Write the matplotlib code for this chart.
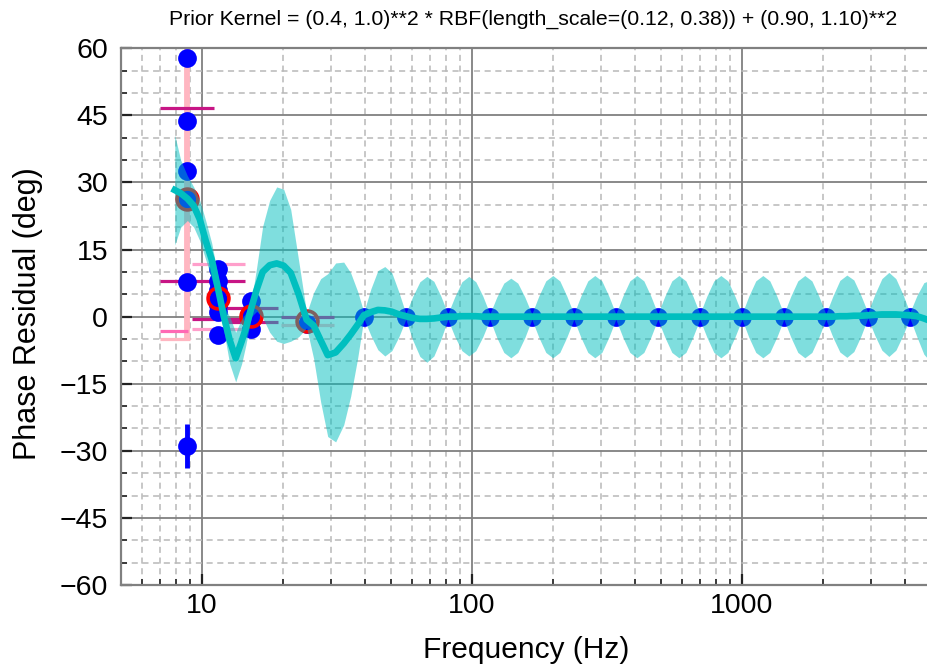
import numpy as np
import matplotlib
matplotlib.use("Agg")
import matplotlib.pyplot as plt
import matplotlib.ticker as mticker

plt.rcParams['font.family'] = ['Liberation Sans', 'DejaVu Sans']

# ---------------- data ----------------
title_text = "Prior Kernel = (0.4, 1.0)**2 * RBF(length_scale=(0.12, 0.38)) + (0.90, 1.10)**2"
x_label = "Frequency (Hz)"
y_label = "Phase Residual (deg)"
xtick_values = [10, 100, 1000]
xtick_labels = ["10", "100", "1000"]
ytick_values = [-60, -45, -30, -15, 0, 15, 30, 45, 60]

# measured phase residuals (blue dots)
meas_freq = [8.82, 8.82, 8.82, 8.82, 8.82,
             11.47, 11.47, 11.47, 11.47, 11.47, 11.47, 11.47,
             15.24, 15.24, 15.24, 15.24,
             24.42,
             39.76, 56.90, 81.42, 116.5, 166.6, 238.4, 341.1, 488.0,
             698.3, 1000, 1429, 2045, 2926, 4186]
meas_phase = [57.8, 43.7, 32.5, 26.2, 7.8,
              10.6, 8.0, 6.0, 4.0, 2.5, 1.0, -4.1,
              3.6, 1.0, -1.0, -2.7,
              -1.6,
              0.0, 0.0, 0.0, 0.0, 0.0, 0.0, 0.0, 0.0,
              0.0, 0.0, 0.0, 0.0, 0.0, 0.0]

# outlier with vertical error
outlier_freq = [8.82]
outlier_phase = [-28.9]
outlier_err = [5.0]

# averaged points (red rings)
avg_freq = [8.82, 11.47, 15.24, 24.42]
avg_phase = [26.3, 4.1, 0.1, -1.0]

# large vertical uncertainty bar
vbar_freq = [8.82]
vbar_low = [-5.3]
vbar_high = [64.0]

# horizontal (frequency) uncertainty bars
hbar_phase = [46.6, 7.9, -3.3, -5.1, 11.7, -0.5, -2.8, 2.0, -1.1, 0.0, -1.9]
hbar_f_lo = [7.02, 7.02, 7.02, 7.02, 9.16, 9.16, 9.16, 12.14, 12.14, 19.56, 19.56]
hbar_f_hi = [11.08, 14.39, 8.85, 9.0, 14.39, 14.39, 14.39, 19.07, 19.07, 30.74, 30.74]
hbar_color = ['#C71585', '#C71585', '#FF69B4', '#FFB6C1', '#FF9FCB', '#C71585',
              '#FF9FCB', '#C71585', '#C71585', '#C71585', '#FFB6C1']

# Gaussian-process fit: frequency, mean, lower and upper band
gp_freq = [7.93, 8.34, 8.83, 9.32, 9.81, 10.32, 10.86, 11.47, 12.03, 12.66,
           13.33, 14.03, 14.52, 15.24, 15.95, 16.78, 17.81, 18.91, 20.07, 21.31,
           22.81, 24.42, 25.92, 27.52, 29.22, 31.27, 33.49, 35.54, 37.74,
           39.76, 42.21, 44.81, 47.56, 50.49, 53.60,
           56.90, 60.40, 64.12, 68.06, 72.25, 76.70,
           81.42, 86.43, 91.75, 97.35, 103.3, 109.7,
           116.5, 123.6, 131.2, 139.3, 147.8, 156.9,
           166.6, 176.8, 187.7, 199.3, 211.5, 224.5,
           238.4, 253.0, 268.6, 285.1, 302.7, 321.3,
           341.1, 362.0, 384.3, 408.0, 433.1, 459.7,
           488.0, 518.1, 549.9, 583.8, 619.7, 657.8,
           698.3, 741.3, 786.9, 835.3, 886.7, 941.3,
           1000, 1060, 1125, 1195, 1268, 1346,
           1429, 1517, 1610, 1709, 1815, 1926,
           2045, 2171, 2304, 2446, 2596, 2756,
           2926, 3106, 3297, 3500, 3715, 3944,
           4186, 4444, 4717, 5007]
gp_mean = [28.3, 27.6, 26.4, 24.8, 21.8, 17.0, 12.8, 6.3, 0.2, -5.2,
           -9.3, -5.5, -2.7, 2.0, 6.1, 10.0, 11.5, 11.9, 11.4, 9.8,
           5.0, -0.7, -2.0, -5.3, -8.6, -8.0, -6.0, -4.0, -1.8,
           0.3, 1.0, 1.5, 1.4, 1.1, 0.5,
           0.1, -0.3, -0.5, -0.5, -0.4, -0.2,
           0.0, 0.0, 0.1, 0.1, 0.1, 0.0,
           0.0, 0.0, 0.0, 0.0, 0.0, 0.0,
           0.0, 0.0, 0.0, 0.0, 0.0, 0.0,
           0.0, 0.0, 0.0, 0.0, 0.0, 0.0,
           0.0, 0.0, 0.0, 0.0, 0.0, 0.0,
           0.0, 0.0, 0.0, 0.0, 0.0, 0.0,
           0.0, 0.0, 0.0, 0.0, 0.0, 0.0,
           0.0, 0.0, 0.0, 0.0, 0.0, 0.0,
           0.0, 0.0, 0.0, 0.0, 0.0, 0.0,
           0.0, 0.0, 0.1, 0.1, 0.2, 0.2,
           0.3, 0.4, 0.5, 0.5, 0.5, 0.4,
           0.3, 0.1, -0.4, -1.0]
gp_lower = [16.0, 20.0, 21.5, 20.0, 17.0, 12.8, 8.5, 3.5, -3.0, -10.5,
            -14.6, -10.5, -6.5, 0.0, 1.2, -0.2, -3.5, -5.5, -6.0, -5.5,
            -4.5, -2.5, -9.4, -19.1, -26.8, -28.0, -24.2, -17.8, -9.2,
            -0.4, -4.2, -7.4, -8.8, -7.6, -4.5,
            -0.6, -5.3, -8.9, -10.2, -8.8, -5.1,
            -0.6, -4.5, -7.6, -8.8, -7.6, -4.5,
            -0.6, -4.7, -8.0, -9.2, -8.0, -4.7,
            -0.6, -4.6, -8.0, -9.2, -8.0, -4.6,
            -0.6, -4.6, -8.0, -9.2, -8.0, -4.6,
            -0.6, -4.6, -8.0, -9.2, -8.0, -4.6,
            -0.6, -4.6, -8.0, -9.2, -8.0, -4.6,
            -0.6, -4.6, -8.0, -9.2, -8.0, -4.6,
            -0.6, -4.6, -8.0, -9.2, -8.0, -4.6,
            -0.6, -4.6, -8.0, -9.2, -8.0, -4.6,
            -0.6, -4.6, -7.9, -9.1, -7.8, -4.4,
            -0.3, -4.2, -7.5, -8.9, -7.5, -4.2,
            -0.3, -4.5, -8.4, -10.2]
gp_upper = [40.6, 35.0, 31.5, 29.0, 26.0, 21.5, 16.5, 9.0, 2.5, 0.0,
            -3.5, -0.5, 0.8, 3.5, 11.1, 20.2, 26.0, 29.0, 28.5, 24.0,
            12.5, 0.8, 5.4, 8.5, 9.6, 12.0, 12.2, 9.8, 5.6,
            1.0, 6.2, 10.3, 11.2, 9.8, 5.5,
            0.7, 4.6, 7.8, 9.0, 7.9, 4.6,
            0.6, 4.5, 7.8, 9.0, 7.8, 4.6,
            0.6, 4.4, 7.5, 8.6, 7.5, 4.4,
            0.6, 4.6, 8.0, 9.2, 8.0, 4.6,
            0.6, 4.6, 8.0, 9.2, 8.0, 4.6,
            0.6, 4.6, 8.0, 9.2, 8.0, 4.6,
            0.6, 4.6, 8.0, 9.2, 8.0, 4.6,
            0.6, 4.6, 8.0, 9.2, 8.0, 4.6,
            0.6, 4.6, 8.0, 9.2, 8.0, 4.6,
            0.6, 4.6, 8.0, 9.2, 8.0, 4.6,
            0.6, 4.6, 8.1, 9.3, 8.2, 4.8,
            0.9, 5.0, 8.5, 9.9, 8.5, 5.0,
            0.9, 4.7, 7.6, 8.2]

# ---------------- figure ----------------
W, H = 927, 668
fig = plt.figure(figsize=(W / 100, H / 100), dpi=100)
ax = fig.add_axes([120.7 / W, (H - 585) / H, 810 / W, (585 - 48.3) / H])

# frequency uncertainty bars and big vertical bar
ax.vlines(vbar_freq, vbar_low, vbar_high, colors='#FFB6C1', lw=4.2, zorder=2)
ax.hlines(hbar_phase, hbar_f_lo, hbar_f_hi, colors=hbar_color, lw=2.3, zorder=2.5)

# measurements
ax.plot(meas_freq, meas_phase, 'o', color='#0000FF', ms=13.5, mew=0, zorder=3)
ax.errorbar(outlier_freq, outlier_phase, yerr=outlier_err, fmt='o', color='#0000FF',
            ms=13.5, mew=0, elinewidth=3.5, capsize=0, zorder=3)
ax.plot(avg_freq, avg_phase, 'o', mfc='none', mec='#FF0000', ms=15, mew=2.6, zorder=4)

# GP band and mean
ax.fill_between(gp_freq, gp_lower, gp_upper, color='c', alpha=0.5, lw=0, zorder=5)
ax.plot(gp_freq, gp_mean, color='c', lw=4.8, zorder=6)

ax.set_xscale('log')
ax.set_xlim(5, 5000)
ax.set_ylim(-60, 60)
ax.set_xticks(xtick_values)
ax.set_xticklabels(xtick_labels)
ax.xaxis.set_minor_locator(mticker.LogLocator(base=10, subs=np.arange(2, 10)))
ax.xaxis.set_minor_formatter(mticker.NullFormatter())
ax.set_yticks(ytick_values)
ax.yaxis.set_minor_locator(mticker.MultipleLocator(5))

ax.grid(which='major', color='#808080', lw=1.3, ls='-', zorder=0)
ax.grid(which='minor', color='#b8b8b8', lw=1.1, ls=(0, (4, 3)), zorder=0)
ax.set_axisbelow(True)

ax.tick_params(which='major', direction='in', length=8, width=1.6, color='#222222',
               labelsize=20.5, top=False, right=False)
ax.tick_params(axis='x', which='major', pad=6)
ax.tick_params(axis='y', which='major', pad=9)
ax.tick_params(which='minor', direction='in', length=4, width=1.2, color='#222222',
               top=False, right=False)
for s in ax.spines.values():
    s.set_color('#808080')
    s.set_linewidth(1.6)

fig.text(526 / W, 1 - 650 / H, x_label, ha='center', va='center', fontsize=21.5)
fig.text(28 / W, 1 - 314 / H, y_label, ha='center', va='center', fontsize=22, rotation=90)
fig.text(533.5 / W, 1 - 19 / H, title_text, ha='center', va='center', fontsize=15.3)

fig.savefig("out.png", dpi=100)
